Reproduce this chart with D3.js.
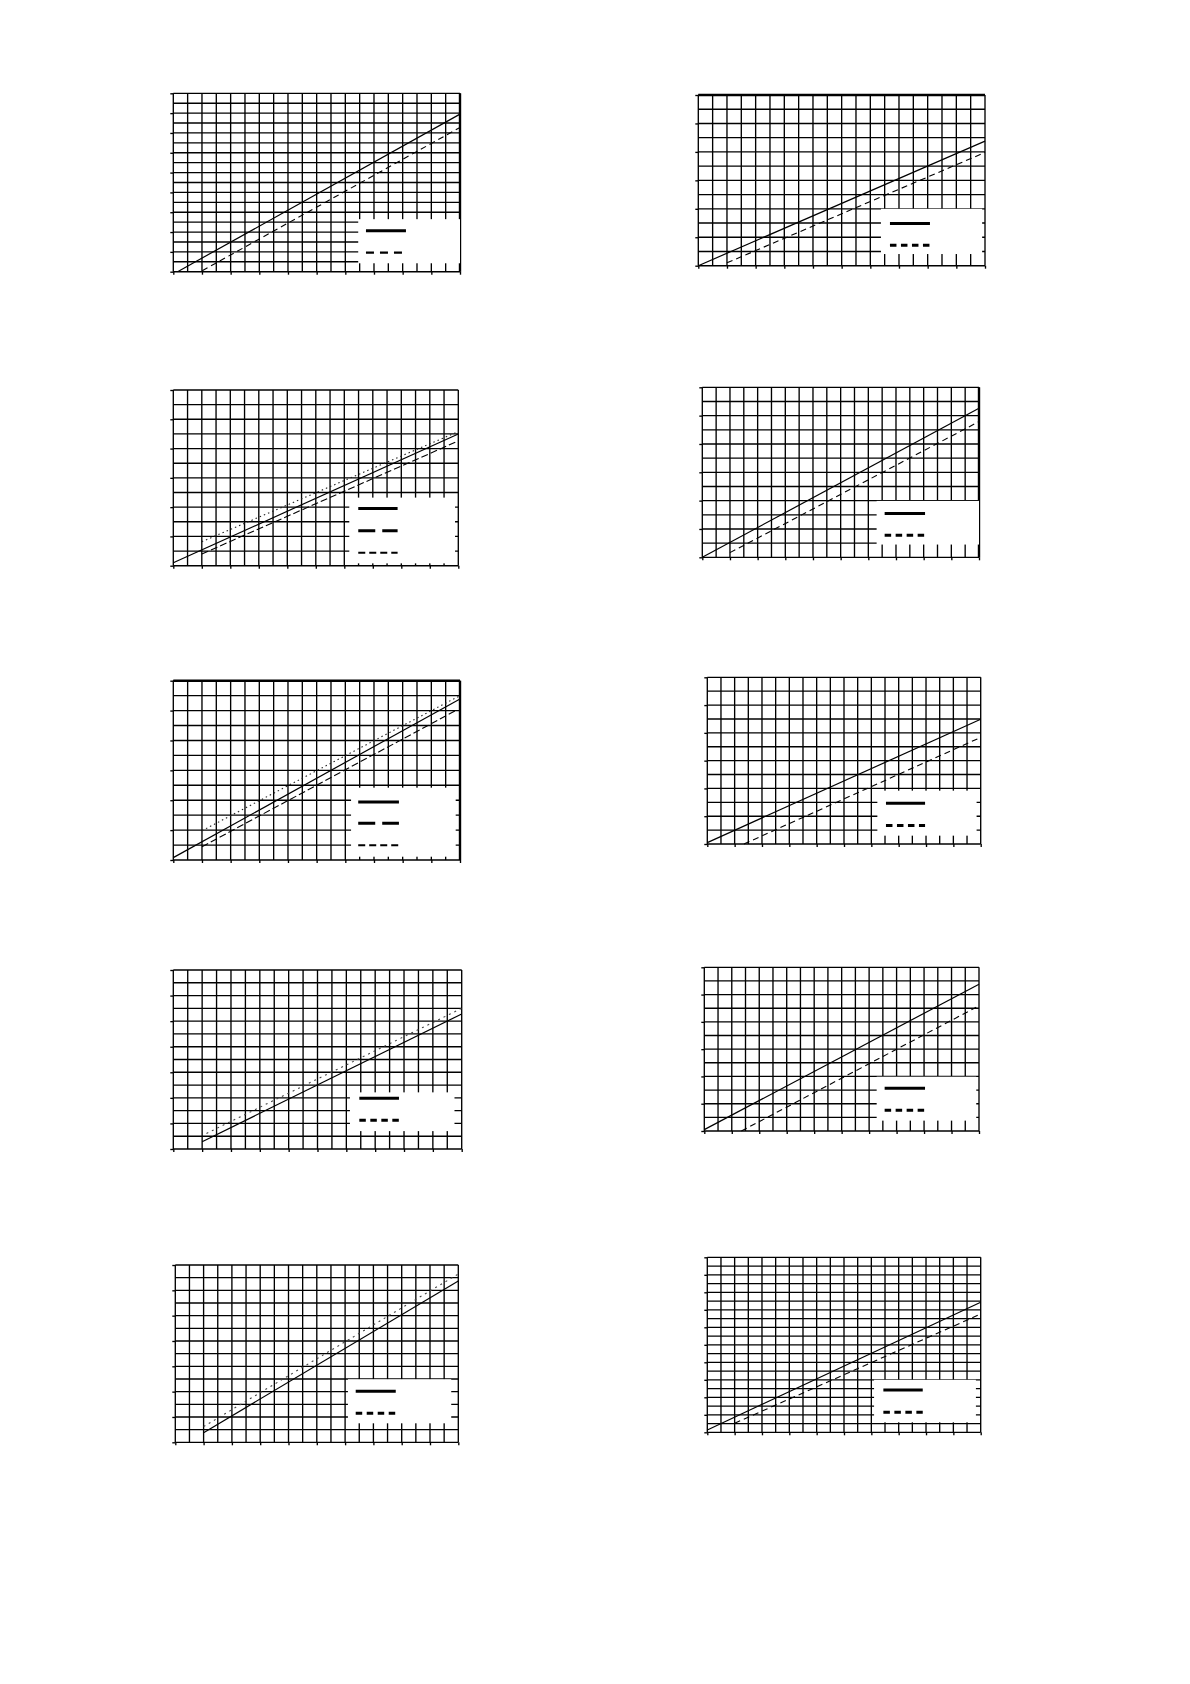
<!DOCTYPE html>
<html>
<head>
<meta charset="utf-8">
<script src="https://cdn.jsdelivr.net/npm/d3@7"></script>
<style>
  body { margin: 0; background: #fff; }
  svg { display: block; }
</style>
</head>
<body>
<div id="chart"></div>
<script>
// --------------- Data (grid units: x 0..cols, y 0..rows) ---------------
const panelCols = [20, 20, 20, 20, 20, 20, 20, 20, 20, 20];
const panelRows = [18, 12, 12, 12, 12, 12, 14, 12, 14, 20];

// each series: [[xStart, yStart], [xEnd, yEnd]]
const solidSeries = [
  [[0.3, 0], [20, 15.9]],
  [[0, 0], [20, 8.76]],
  [[0, 0.2], [20, 9.0]],
  [[0, 0], [20, 10.52]],
  [[0, 0.16], [20, 10.78]],
  [[0, 0.1], [20, 8.98]],
  [[2, 0.57], [20, 10.56]],
  [[0, 0.1], [20, 10.76]],
  [[2, 0.76], [20, 12.74]],
  [[0, 0.27], [20, 14.86]]
];
const dashedSeries = [
  [[2.02, 0.1], [20, 14.55]],
  [[2, 0.2], [20, 7.96]],
  [[2, 0.8], [20, 8.52]],
  [[2, 0.33], [20, 9.58]],
  [[2, 0.89], [19.7, 10.0]],
  [[2.68, 0], [19.83, 7.6]],
  null,
  [[2.7, 0], [19.8, 9.07]],
  null,
  [[2, 1.03], [19.83, 13.4]]
];
const dottedSeries = [
  null,
  null,
  [[2, 1.64], [20, 9.16]],
  null,
  [[2, 1.96], [20, 11.0]],
  null,
  [[2.3, 1.22], [20, 11.0]],
  null,
  [[2, 1.24], [20, 13.29]],
  null
];

// --------------- Layout ---------------
// plot rect in page pixels: [left, top, right, bottom]
const PLOTS = [
  [173.3, 93.3, 460, 271.7],
  [698.3, 95, 985, 265.7],
  [173.3, 390, 458.3, 565.7],
  [702.3, 387.3, 979, 557.3],
  [173.3, 680.7, 460, 860],
  [707.3, 677.3, 980.7, 844],
  [173.3, 970, 461.7, 1149],
  [704.3, 967.3, 979, 1131],
  [175.3, 1265, 458.3, 1442.3],
  [707.3, 1257.3, 980.7, 1432.3]
];
// legend box in grid units: [x0, yBottom, x1, yTop]
const LEGEND_BOX = [
  [12.9, 0.85, 20, 5.3],
  [12.74, 0.82, 19.8, 4.0],
  [12.35, 0.16, 19.77, 4.65],
  [12.6, 0.9, 20, 3.98],
  [12.4, 0.22, 19.7, 4.84],
  [12.44, 0.6, 19.7, 3.84],
  [12.25, 1.4, 19.5, 4.43],
  [12.55, 0.76, 19.8, 3.98],
  [12.2, 1.5, 19.5, 4.98],
  [12.2, 1.14, 19.65, 6.0]
];
// legend sample: x range and rows (grid units)
const LEGEND_X = [
  [13.44, 16.23], [13.37, 16.16], [12.98, 15.74], [13.18, 16.1], [12.9, 15.74],
  [13.07, 15.93], [12.9, 15.65], [13.13, 16.07], [12.75, 15.58], [12.88, 15.76]
];
const LEGEND_ROWS = [
  [4.14, 1.92], [2.97, 1.43], [3.9, 2.39, 0.89], [3.1, 1.55], [3.88, 2.46, 0.98],
  [2.93, 1.34], [3.96, 2.24], [3.13, 1.52], [4.03, 2.29], [4.84, 2.29]
];
const THICK_EDGES = [["right"], ["top"], [], ["right"], ["top", "right"], [], [], [], [], []];

const WIDTH = 1190;
const HEIGHT = 1684;
const GRID_W = 1.35;

const svg = d3
  .select("#chart")
  .append("svg")
  .attr("width", WIDTH)
  .attr("height", HEIGHT);

function renderPanel(i) {
  const [left, top, right, bottom] = PLOTS[i];
  const cols = panelCols[i];
  const rows = panelRows[i];
  const x = d3.scaleLinear().domain([0, cols]).range([left, right]);
  const y = d3.scaleLinear().domain([0, rows]).range([bottom, top]);
  const g = svg.append("g").attr("class", "panel");

  // grid
  const grid = g.append("g").attr("stroke", "#000").attr("stroke-width", GRID_W);
  grid.selectAll("line.v")
    .data(d3.range(0, cols + 1))
    .join("line")
    .attr("class", "v")
    .attr("x1", (d) => x(d)).attr("x2", (d) => x(d))
    .attr("y1", top).attr("y2", bottom);
  grid.selectAll("line.h")
    .data(d3.range(0, rows + 1))
    .join("line")
    .attr("class", "h")
    .attr("x1", left).attr("x2", right)
    .attr("y1", (d) => y(d)).attr("y2", (d) => y(d));

  // heavier frame edges
  THICK_EDGES[i].forEach((edge) => {
    const l = g.append("line").attr("stroke", "#000").attr("stroke-width", 2.4);
    if (edge === "right") l.attr("x1", right).attr("x2", right).attr("y1", top).attr("y2", bottom);
    if (edge === "top") l.attr("x1", left).attr("x2", right).attr("y1", top).attr("y2", top);
  });

  // axes ticks (outward, no labels)
  const yAxis = g.append("g")
    .attr("transform", `translate(${left},0)`)
    .call(d3.axisLeft(y).tickValues(d3.range(0, rows + 1, 2)).tickSize(3).tickSizeOuter(0).tickFormat(""));
  const xAxis = g.append("g")
    .attr("transform", `translate(0,${bottom})`)
    .call(d3.axisBottom(x).tickValues(d3.range(0, cols + 1, 2)).tickSize(3).tickSizeOuter(0).tickFormat(""));
  [yAxis, xAxis].forEach((a) => {
    a.select(".domain").remove();
    a.selectAll("text").remove();
    a.selectAll("line").attr("stroke-width", GRID_W);
  });

  // legend box (covers the grid)
  const [bx0, by0, bx1, by1] = LEGEND_BOX[i];
  g.append("rect")
    .attr("x", x(bx0))
    .attr("y", y(by1))
    .attr("width", x(bx1) - x(bx0))
    .attr("height", y(by0) - y(by1))
    .attr("fill", "#fff");

  // series
  const three = dashedSeries[i] && dottedSeries[i];
  const line = d3.line().x((d) => x(d[0])).y((d) => y(d[1]));
  const series = [
    { pts: solidSeries[i], dash: null, w: 1.2, c: "#000" },
    { pts: dashedSeries[i], dash: three ? "7,3" : "6,4", w: 1.1, c: "#000" },
    { pts: dottedSeries[i], dash: three ? "1.5,3" : "2,4", w: 1.1, c: three ? "#222" : "#444" }
  ].filter((s) => s.pts);

  g.selectAll("path.series")
    .data(series)
    .join("path")
    .attr("class", "series")
    .attr("d", (s) => line(s.pts))
    .attr("fill", "none")
    .attr("stroke", (s) => s.c)
    .attr("stroke-width", (s) => s.w)
    .attr("stroke-dasharray", (s) => s.dash);

  // legend samples
  const [lx0, lx1] = LEGEND_X[i];
  const legendStyles = [{ dash: null, w: 3 }];
  if (three) {
    legendStyles.push({ dash: "17,7", w: 3 });
    legendStyles.push({ dash: "7,4", w: 2 });
  } else if (i === 0) {
    legendStyles.push({ dash: "8,6", w: 2.2 });
  } else {
    legendStyles.push({ dash: "6.5,4.5", w: 3 });
  }
  g.selectAll("line.legend")
    .data(LEGEND_ROWS[i].map((r, k) => ({ r, ...legendStyles[k] })))
    .join("line")
    .attr("class", "legend")
    .attr("x1", x(lx0)).attr("x2", x(lx1))
    .attr("y1", (d) => y(d.r)).attr("y2", (d) => y(d.r))
    .attr("stroke", "#000")
    .attr("stroke-width", (d) => d.w)
    .attr("stroke-dasharray", (d) => d.dash);
}

PLOTS.forEach((_p, i) => renderPanel(i));
</script>
</body>
</html>
